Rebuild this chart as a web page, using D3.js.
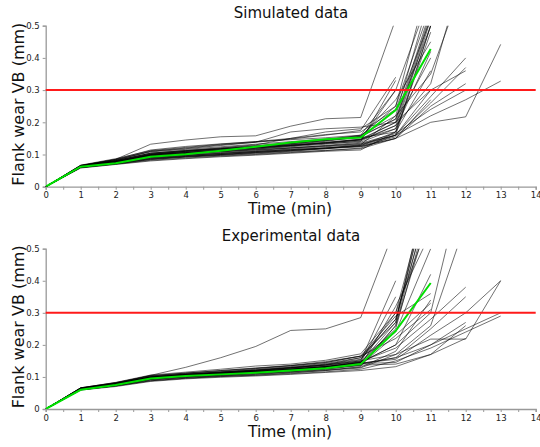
<!DOCTYPE html>
<html><head><meta charset="utf-8">
<script src="https://cdn.jsdelivr.net/npm/d3@7"></script>
<style>
body{margin:0;background:#fff;}
svg{display:block;font-family:"DejaVu Sans",Verdana,sans-serif;}
</style></head>
<body><svg id="c" width="540" height="447"></svg>
<script>
// ---- data ----
const xTicks = [0,1,2,3,4,5,6,7,8,9,10,11,12,13,14];
const yTicks = [0,0.1,0.2,0.3,0.4,0.5];
const yTickLabels = ["0","0.1","0.2","0.3","0.4","0.5"];
const threshold = 0.3;
const titles = ["Simulated data","Experimental data"];
const xLabel = "Time (min)";
const yLabel = "Flank wear VB (mm)";

const simMean = [0,.062,.0725,.093,.1005,.112,.124,.137,.147,.153,.238,.428];
const simRuns = [
 [0,.062,.075,.092,.1,.106,.112,.12,.128,.138,.18,.52],
 [0,.064,.079,.1,.106,.113,.12,.127,.136,.146,.2,.54],
 [0,.06,.071,.084,.092,.098,.104,.11,.118,.128,.17,.5],
 [0,.066,.081,.104,.112,.12,.128,.136,.145,.155,.21,.55],
 [0,.063,.076,.096,.103,.11,.117,.124,.132,.142,.19,.53],
 [0,.061,.073,.088,.095,.1,.107,.113,.12,.13,.22,.6],
 [0,.065,.084,.108,.116,.124,.132,.14,.148,.158,.25,.56],
 [0,.059,.07,.082,.089,.095,.1,.106,.112,.12,.16,.5],
 [0,.062,.077,.099,.106,.113,.12,.128,.137,.148,.2,.40],
 [0,.064,.08,.102,.11,.118,.125,.134,.144,.152,.17,.36],
 [0,.06,.072,.086,.094,.1,.106,.112,.12,.128,.16,.30],
 [0,.063,.074,.09,.097,.103,.109,.115,.12,.125,.15,.27],
 [0,.065,.085,.132,.145,.155,.158,.188,.211,.215,.52],
 [0,.066,.084,.11,.118,.128,.138,.148,.16,.175,.34],
 [0,.061,.076,.096,.104,.11,.117,.126,.135,.145,.3],
 [0,.062,.074,.09,.097,.103,.109,.115,.12,.126,.155,.26,.37],
 [0,.064,.082,.11,.12,.13,.138,.17,.18,.185,.2,.3,.36],
 [0,.06,.071,.085,.092,.097,.102,.108,.113,.118,.15,.25,.32],
 [0,.063,.078,.098,.106,.113,.12,.128,.136,.145,.19,.32,.7],
 [0,.065,.081,.104,.112,.118,.126,.135,.145,.16,.22,.35,.65],
 [0,.061,.073,.087,.094,.1,.106,.112,.118,.124,.15,.2,.217,.442],
 [0,.063,.076,.096,.103,.109,.115,.121,.127,.133,.16,.22,.27,.328],
 [0,.062,.075,.095,.102,.108,.114,.12,.126,.135,.165,.24,.3],
 [0,.067,.087,.112,.122,.132,.14,.15,.162,.17,.24,.52],
 [0,.058,.069,.08,.087,.093,.098,.104,.11,.114,.17,.48],
 [0,.064,.077,.098,.107,.114,.121,.131,.141,.155,.27,.45],
 [0,.061,.075,.1,.11,.118,.124,.13,.138,.147,.18,.42],
 [0,.066,.085,.114,.125,.133,.14,.146,.152,.16,.3,.6],
 [0,.063,.079,.101,.109,.116,.124,.133,.143,.157,.21,.5],
 [0,.06,.073,.091,.098,.104,.11,.117,.124,.131,.16,.28,.4],
 [0,.064,.081,.104,.113,.121,.13,.15,.17,.18,.25,.66],
 [0,.062,.078,.1,.11,.117,.123,.129,.134,.14,.33]
];

const expMean = [0,.06,.075,.095,.103,.108,.113,.12,.127,.14,.244,.393];
const expRuns = [
 [0,.065,.08,.105,.13,.16,.195,.245,.25,.285,.57],
 [0,.062,.076,.096,.104,.11,.115,.122,.13,.145,.27,.72],
 [0,.064,.079,.1,.108,.115,.122,.13,.14,.155,.28,.7],
 [0,.06,.072,.088,.096,.102,.106,.112,.12,.132,.26,.68],
 [0,.066,.082,.104,.112,.12,.128,.136,.148,.165,.27,.75],
 [0,.063,.077,.097,.105,.111,.117,.124,.132,.147,.25,.65],
 [0,.061,.074,.092,.1,.105,.11,.116,.124,.138,.26,.62],
 [0,.065,.08,.1,.109,.116,.124,.132,.142,.16,.28,.66],
 [0,.064,.079,.1,.108,.115,.121,.129,.137,.15,.40],
 [0,.062,.076,.096,.104,.11,.116,.123,.131,.145,.35],
 [0,.063,.077,.098,.106,.112,.118,.125,.133,.146,.2,.42],
 [0,.061,.074,.092,.1,.105,.11,.116,.122,.13,.18,.34],
 [0,.065,.081,.103,.111,.118,.126,.135,.145,.165,.22,.31],
 [0,.062,.076,.097,.105,.111,.117,.124,.132,.145,.2,.3,.75],
 [0,.06,.073,.09,.098,.103,.108,.114,.12,.128,.17,.26,.58],
 [0,.063,.078,.099,.107,.113,.119,.127,.135,.148,.19,.28,.38],
 [0,.061,.075,.094,.102,.108,.114,.121,.129,.14,.16,.25,.35],
 [0,.064,.079,.1,.108,.114,.12,.128,.137,.15,.17,.218,.218,.40],
 [0,.062,.076,.096,.104,.11,.116,.123,.131,.142,.16,.2,.25,.30],
 [0,.06,.072,.088,.096,.101,.105,.11,.116,.124,.15,.19,.24,.29],
 [0,.063,.077,.098,.105,.111,.117,.124,.132,.143,.155,.23,.3,.4],
 [0,.062,.075,.095,.103,.108,.114,.12,.127,.137,.14,.17,.26],
 [0,.066,.083,.106,.115,.124,.134,.14,.152,.172,.3,.6],
 [0,.06,.073,.093,.1,.106,.112,.118,.125,.135,.32,.55],
 [0,.064,.078,.099,.107,.113,.12,.128,.138,.16,.24,.5],
 [0,.059,.07,.086,.094,.099,.103,.108,.114,.12,.132,.17,.22],
 [0,.066,.082,.103,.112,.12,.127,.135,.145,.165,.29,.36],
 [0,.061,.074,.094,.102,.108,.114,.121,.128,.138,.23,.33],
 [0,.064,.079,.1,.108,.114,.121,.129,.138,.153,.3,.71],
 [0,.062,.076,.097,.105,.11,.116,.123,.131,.142,.145,.2,.27]
];

// ---- drawing ----
const svg = d3.select("#c");
const x = d3.scaleLinear().domain([0,14]).range([45.7,535.7]);

const panels = [
  {title:titles[0], runs:simRuns, mean:simMean, top:25.7, bottom:186.7, id:"a"},
  {title:titles[1], runs:expRuns, mean:expMean, top:248.7, bottom:409, id:"b"}
];

panels.forEach(p => {
  const y = d3.scaleLinear().domain([0,0.5]).range([p.bottom,p.top]);
  const g = svg.append("g");
  g.append("clipPath").attr("id","clip"+p.id).append("rect")
    .attr("x",x(0)).attr("y",p.top).attr("width",x(14)-x(0)).attr("height",p.bottom-p.top);

  // axes
  const xa = d3.axisBottom(x).tickValues(d3.range(0,14.01,0.5)).tickSize(3)
    .tickFormat(d => Number.isInteger(d) ? d : "");
  const gx = g.append("g").attr("transform",`translate(0,${p.bottom})`).call(xa);
  const ya = d3.axisLeft(y).tickValues(yTicks).tickSize(3).tickFormat((d,i)=>yTickLabels[i]);
  const gy = g.append("g").attr("transform",`translate(${x(0)},0)`).call(ya);
  [gx,gy].forEach(a=>{
    a.select(".domain").attr("stroke","#999").attr("stroke-width",1.3);
    a.selectAll(".tick line").attr("stroke","#999");
    a.selectAll("text").attr("fill","#222").attr("font-size",8.5).attr("font-family","DejaVu Sans, Verdana, sans-serif");
  });
  gy.selectAll("text").attr("x",-6);
  gx.selectAll("text").attr("y",5.5);

  const line = d3.line().x((d,i)=>x(i)).y(d=>y(d));
  const lines = g.append("g").attr("clip-path",`url(#clip${p.id})`);
  lines.selectAll("path.run").data(p.runs).join("path").attr("class","run")
    .attr("d",line).attr("fill","none").attr("stroke","#000").attr("stroke-width",0.7).attr("stroke-opacity",0.8);
  lines.append("path").attr("d",line(p.mean)).attr("fill","none").attr("stroke","#00e000").attr("stroke-width",2);
  g.append("line").attr("x1",x(0)).attr("x2",x(14)).attr("y1",y(threshold)).attr("y2",y(threshold))
    .attr("stroke","#ff1a1a").attr("stroke-width",2);

  // labels
  g.append("text").attr("x",291).attr("y",p.top-8).attr("text-anchor","middle")
    .attr("font-size",15).attr("fill","#111").text(p.title);
  g.append("text").attr("x",290).attr("y",p.bottom+27.5).attr("text-anchor","middle")
    .attr("font-size",15.5).attr("fill","#111").text(xLabel);
  g.append("text").attr("transform",`translate(24,${(p.top+p.bottom)/2-2}) rotate(-90)`)
    .attr("text-anchor","middle").attr("font-size",16).attr("fill","#111").text(yLabel);
});
</script></body></html>
